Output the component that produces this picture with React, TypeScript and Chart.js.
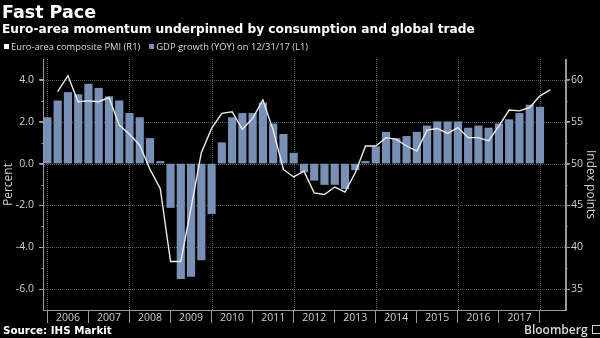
import React, { useEffect, useRef } from 'react';
import { Chart, registerables } from 'chart.js';

Chart.register(...registerables);

// GDP growth (YoY, %) by quarter, Q4 2005 .. Q4 2017 (left axis)
const gdpGrowth = [
  2.2,
  3.0, 3.4, 3.3, 3.8,
  3.6, 3.2, 3.0, 2.4,
  2.2, 1.2, 0.1, -2.1,
  -5.5, -5.4, -4.6, -2.4,
  1.0, 2.2, 2.4, 2.4,
  2.9, 1.9, 1.4, 0.5,
  -0.4, -0.8, -1.0, -1.0,
  -1.2, -0.3, 0.1, 0.8,
  1.5, 1.2, 1.3, 1.5,
  1.8, 2.0, 2.0, 2.0,
  1.7, 1.8, 1.7, 1.9,
  2.1, 2.4, 2.8, 2.7,
];

// Euro-area composite PMI by quarter, Q1 2006 .. Q1 2018 (right axis)
const pmi = [
  58.6, 60.5, 57.4, 57.5,
  57.4, 57.9, 54.6, 53.5,
  52.2, 49.3, 47.0, 38.3,
  38.3, 44.7, 51.3, 54.2,
  56.0, 56.2, 54.1, 55.4,
  57.6, 54.0, 49.3, 48.4,
  49.1, 46.5, 46.3, 47.2,
  46.6, 48.9, 52.1, 52.1,
  53.1, 52.9, 52.1, 51.5,
  54.0, 54.2, 53.6, 54.3,
  53.1, 53.1, 52.7, 54.5,
  56.4, 56.3, 56.7, 58.1,
  58.8,
];

const gdpFirstQuarter = { year: 2005, q: 4 };
const pmiFirstQuarter = { year: 2006, q: 1 };

const yearLabels = ['2006', '2007', '2008', '2009', '2010', '2011', '2012', '2013', '2014', '2015', '2016', '2017'];
const verticalGridYears = [2006, 2008, 2010, 2012, 2014, 2016, 2018];
const leftTicks = [-6, -4, -2, 0, 2, 4];
const leftMinorTicks = [-5, -3, -1, 1, 3];
const rightTicks = [35, 40, 45, 50, 55, 60];
const rightMinorTicks = [37.5, 42.5, 47.5, 52.5, 57.5];

const TITLE = 'Fast Pace';
const SUBTITLE = 'Euro-area momentum underpinned by consumption and global trade';
const LEGEND_PMI = 'Euro-area composite PMI (R1)';
const LEGEND_GDP = 'GDP growth (YOY) on 12/31/17 (L1)';
const SOURCE = 'Source: IHS Markit';

const BAR_COLOR = '#7890b6';
const LINE_COLOR = '#ececec';
const GRID_COLOR = '#5e5e5e';
const AXIS_COLOR = '#9a9a9a';
const TEXT_COLOR = '#cfcfcf';

// quarter-end position as fractional year
function quarterEndX(first: { year: number; q: number }, i: number) {
  const n = first.year * 4 + (first.q - 1) + i;
  const year = Math.floor(n / 4);
  const q = (n % 4) + 1;
  return year + q / 4;
}

// dotted grid drawn from the chart's own scales, beneath the data
const dottedGridPlugin = {
  id: 'dottedGrid',
  beforeDatasetsDraw(chart: any) {
    const ctx = chart.ctx;
    const area = chart.chartArea;
    const xs = chart.scales.x;
    const ys = chart.scales.y;
    ctx.save();
    ctx.strokeStyle = GRID_COLOR;
    ctx.lineWidth = 1;
    ctx.setLineDash([1, 1]);
    ctx.beginPath();
    for (const v of leftTicks) {
      const py = Math.round(ys.getPixelForValue(v)) + 0.5;
      ctx.moveTo(area.left + 1, py);
      ctx.lineTo(area.right, py);
    }
    for (const yr of verticalGridYears) {
      const px = Math.round(xs.getPixelForValue(yr)) + 0.5;
      if (px < area.left || px > area.right) continue;
      ctx.moveTo(px, area.top);
      ctx.lineTo(px, area.bottom);
    }
    ctx.stroke();
    ctx.restore();
  },
  afterDraw(chart: any) {
    const ctx = chart.ctx;
    const left = chart.scales.y;
    const right = chart.scales.y1;
    const area = chart.chartArea;
    ctx.save();
    ctx.strokeStyle = AXIS_COLOR;
    ctx.lineWidth = 1;
    ctx.beginPath();
    // axis lines
    const lx = Math.round(area.left) + 0.5;
    const rx = Math.round(area.right) - 0.5;
    ctx.moveTo(lx, area.top);
    ctx.lineTo(lx, area.bottom);
    ctx.moveTo(rx, area.top);
    ctx.lineTo(rx, area.bottom);
    // major ticks
    for (const v of leftTicks) {
      const py = Math.round(left.getPixelForValue(v)) + 0.5;
      ctx.moveTo(lx - 4, py);
      ctx.lineTo(lx, py);
    }
    for (const v of rightTicks) {
      const py = Math.round(right.getPixelForValue(v)) + 0.5;
      ctx.moveTo(rx, py);
      ctx.lineTo(rx + 4, py);
    }
    // minor ticks
    for (const v of leftMinorTicks) {
      const py = Math.round(left.getPixelForValue(v)) + 0.5;
      ctx.moveTo(lx - 2, py);
      ctx.lineTo(lx, py);
    }
    for (const v of rightMinorTicks) {
      const py = Math.round(right.getPixelForValue(v)) + 0.5;
      ctx.moveTo(rx, py);
      ctx.lineTo(rx + 2, py);
    }
    ctx.stroke();
    ctx.restore();
  },
};

export default function App() {
  const canvasRef = useRef<HTMLCanvasElement | null>(null);

  useEffect(() => {
    document.body.style.margin = '0';
    const canvas = canvasRef.current;
    if (!canvas) return;

    const barData = gdpGrowth.map((v, i) => ({ x: quarterEndX(gdpFirstQuarter, i), y: v }));
    const lineData = pmi.map((v, i) => ({ x: quarterEndX(pmiFirstQuarter, i), y: v }));

    const firstYear = parseInt(yearLabels[0], 10);
    const lastYear = parseInt(yearLabels[yearLabels.length - 1], 10) + 1;

    const chart = new Chart(canvas, {
      type: 'bar',
      data: {
        datasets: [
          {
            type: 'line',
            label: LEGEND_PMI,
            data: lineData,
            xAxisID: 'x',
            yAxisID: 'y1',
            borderColor: LINE_COLOR,
            borderWidth: 1.4,
            pointRadius: 0,
            tension: 0,
            order: 0,
          } as any,
          {
            type: 'bar',
            label: LEGEND_GDP,
            data: barData,
            xAxisID: 'x',
            yAxisID: 'y',
            backgroundColor: BAR_COLOR,
            borderWidth: 0,
            barThickness: 7.5,
            order: 1,
          } as any,
        ],
      },
      options: {
        responsive: false,
        animation: false,
        devicePixelRatio: 1,
        layout: { padding: { top: 59, left: 0, right: 0, bottom: 0 } },
        plugins: {
          legend: { display: false },
          tooltip: { enabled: false },
          title: { display: false },
        },
        scales: {
          x: {
            type: 'linear',
            position: 'bottom',
            offset: false,
            min: 2005.893,
            max: 2018.634,
            afterBuildTicks(scale: any) {
              const t: any[] = [];
              for (let y = firstYear; y <= lastYear; y++) {
                t.push({ value: y });
                if (y < lastYear) t.push({ value: y + 0.5 });
              }
              scale.ticks = t;
            },
            afterFit(scale: any) {
              scale.height = 28;
            },
            ticks: {
              autoSkip: false,
              maxRotation: 0,
              minRotation: 0,
              padding: -11,
              color: TEXT_COLOR,
              font: { family: 'Open Sans', size: 10.5 },
              callback(value: any) {
                const v = Number(value);
                if (Math.abs(v % 1 - 0.5) < 1e-6) {
                  const idx = Math.floor(v) - firstYear;
                  return yearLabels[idx] ?? '';
                }
                return '';
              },
            },
            grid: {
              display: true,
              offset: false,
              drawOnChartArea: false,
              drawTicks: true,
              tickLength: 13,
              lineWidth: 1,
              tickColor(ctx: any) {
                const v = ctx.tick ? ctx.tick.value : NaN;
                return Number.isInteger(v) ? AXIS_COLOR : 'rgba(0,0,0,0)';
              },
            },
            border: { display: true, color: AXIS_COLOR, width: 1 },
          },
          y: {
            type: 'linear',
            position: 'left',
            min: -7,
            max: 5,
            afterBuildTicks(scale: any) {
              scale.ticks = leftTicks.map((v) => ({ value: v }));
            },
            afterFit(scale: any) {
              scale.width = 43;
            },
            ticks: {
              color: TEXT_COLOR,
              padding: 5,
              font: { family: 'Open Sans', size: 10.5 },
              callback(value: any) {
                return Number(value).toFixed(1);
              },
            },
            grid: {
              display: true,
              drawOnChartArea: false,
              drawTicks: true,
              tickLength: 4,
              tickColor: AXIS_COLOR,
            },
            border: { display: true, color: AXIS_COLOR, width: 1 },
            title: {
              display: true,
              text: 'Percent',
              color: TEXT_COLOR,
              font: { family: 'Open Sans', size: 12 },
              padding: { top: 1, bottom: 0 },
            },
          },
          y1: {
            type: 'linear',
            position: 'right',
            min: 32.5,
            max: 62.5,
            afterBuildTicks(scale: any) {
              scale.ticks = rightTicks.map((v) => ({ value: v }));
            },
            afterFit(scale: any) {
              scale.width = 34;
            },
            ticks: {
              color: TEXT_COLOR,
              padding: 1,
              font: { family: 'Open Sans', size: 10.5 },
            },
            grid: {
              display: true,
              drawOnChartArea: false,
              drawTicks: true,
              tickLength: 4,
              tickColor: AXIS_COLOR,
            },
            border: { display: true, color: AXIS_COLOR, width: 1 },
            title: {
              display: true,
              text: 'Index points',
              color: TEXT_COLOR,
              font: { family: 'Open Sans', size: 12 },
              padding: { top: 2, bottom: 0 },
            },
          },
        },
      } as any,
      plugins: [dottedGridPlugin],
    });

    return () => {
      chart.destroy();
    };
  }, []);

  const wrap: React.CSSProperties = {
    position: 'fixed',
    left: 0,
    top: 0,
    width: 600,
    height: 338,
    background: '#000',
    overflow: 'hidden',
  };

  return (
    <div style={wrap}>
      <canvas ref={canvasRef} width={600} height={338} style={{ position: 'absolute', left: 0, top: 0, width: 600, height: 338 }} />
      <div style={{ position: 'absolute', left: 2, top: 2, color: '#fff', font: 'bold 17.5px "DejaVu Sans", sans-serif', whiteSpace: 'nowrap' }}>{TITLE}</div>
      <div style={{ position: 'absolute', left: 2, top: 22, color: '#fff', font: 'bold 12.2px "DejaVu Sans", sans-serif', whiteSpace: 'nowrap' }}>{SUBTITLE}</div>
      <div style={{ position: 'absolute', left: 4, top: 40, height: 12, display: 'flex', alignItems: 'center', color: '#dcdcdc', font: '9.4px "Liberation Sans Narrow", "Open Sans", sans-serif', whiteSpace: 'nowrap' }}>
        <span style={{ display: 'inline-block', width: 5, height: 5, background: '#fff', marginRight: 2 }} />
        <span>{LEGEND_PMI}</span>
        <span style={{ display: 'inline-block', width: 5, height: 5, background: BAR_COLOR, marginLeft: 9, marginRight: 2 }} />
        <span>{LEGEND_GDP}</span>
      </div>
      <div style={{ position: 'absolute', left: 3, top: 324, color: '#fff', font: 'bold 10.3px "DejaVu Sans", sans-serif', whiteSpace: 'nowrap' }}>{SOURCE}</div>
      <div style={{ position: 'absolute', left: 524, top: 321, display: 'flex', alignItems: 'center', color: '#d8d8d8', font: '600 12px "Open Sans", sans-serif', whiteSpace: 'nowrap' }}>
        <span>Bloomberg</span>
        <span style={{ display: 'inline-block', width: 9, height: 9, border: '1px solid #d8d8d8', marginLeft: 4, boxSizing: 'border-box' }} />
      </div>
    </div>
  );
}
